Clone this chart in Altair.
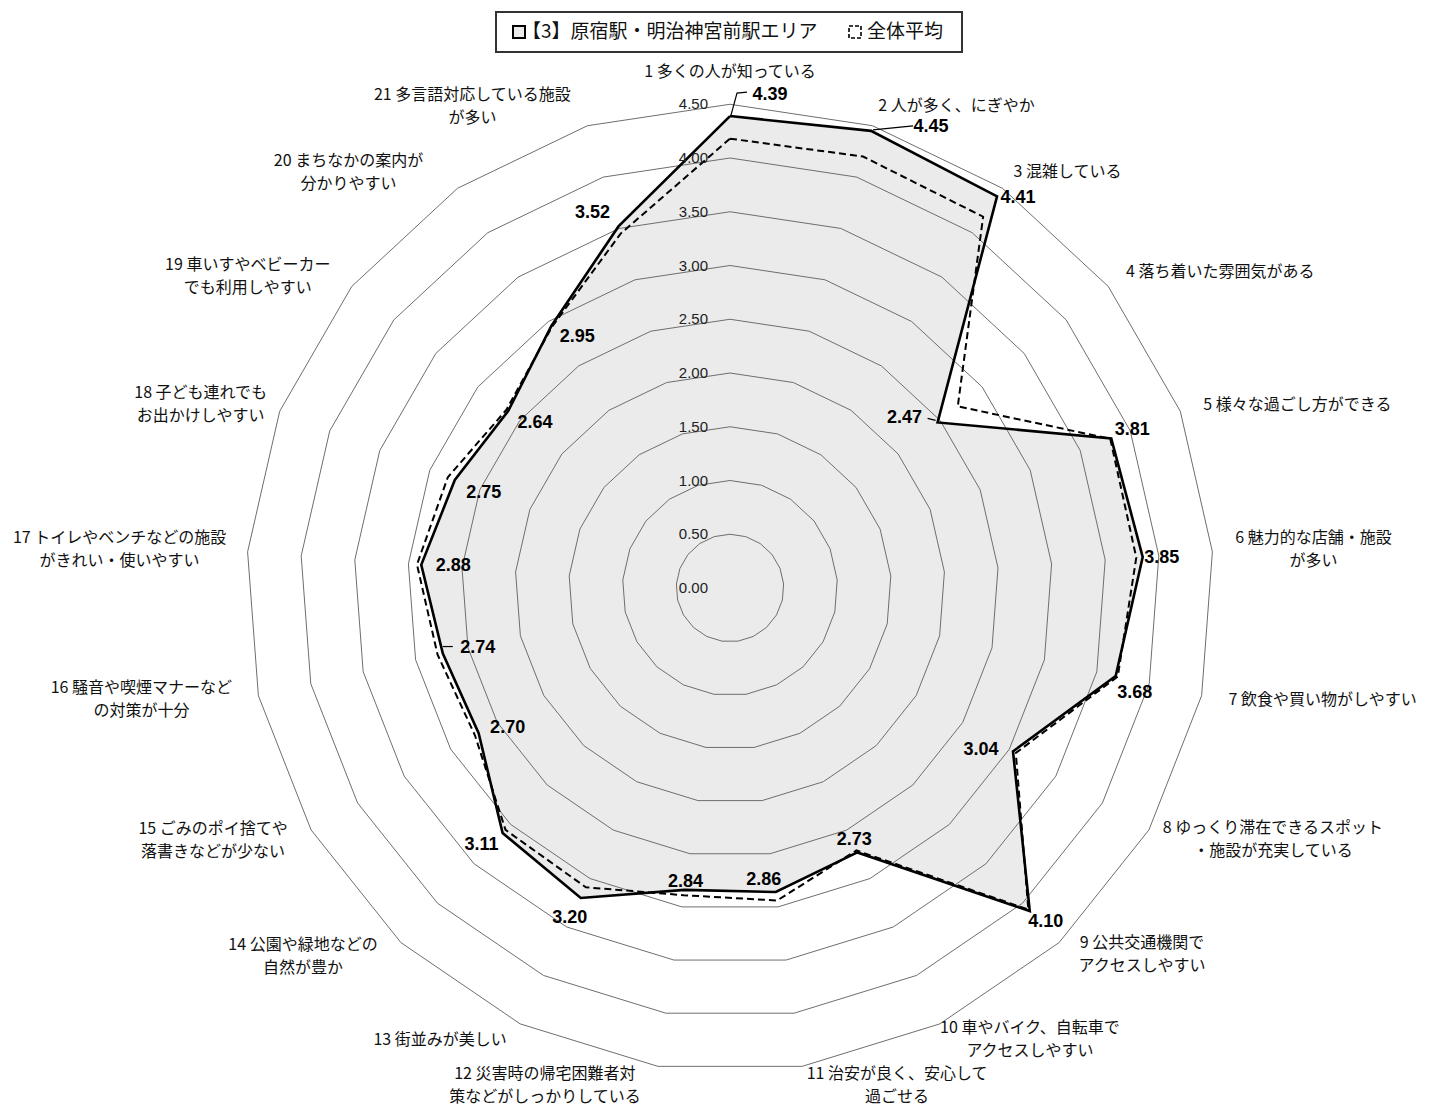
import math
import altair as alt
import pandas as pd

# ---------------- data ----------------
CATEGORIES = [
    "1 多くの人が知っている",
    "2 人が多く、にぎやか",
    "3 混雑している",
    "4 落ち着いた雰囲気がある",
    "5 様々な過ごし方ができる",
    "6 魅力的な店舗・施設\nが多い",
    "7 飲食や買い物がしやすい",
    "8 ゆっくり滞在できるスポット\n・施設が充実している",
    "9 公共交通機関で\nアクセスしやすい",
    "10 車やバイク、自転車で\nアクセスしやすい",
    "11 治安が良く、安心して\n過ごせる",
    "12 災害時の帰宅困難者対\n策などがしっかりしている",
    "13 街並みが美しい",
    "14 公園や緑地などの\n自然が豊か",
    "15 ごみのポイ捨てや\n落書きなどが少ない",
    "16 騒音や喫煙マナーなど\nの対策が十分",
    "17 トイレやベンチなどの施設\nがきれい・使いやすい",
    "18 子ども連れでも\nお出かけしやすい",
    "19 車いすやベビーカー\nでも利用しやすい",
    "20 まちなかの案内が\n分かりやすい",
    "21 多言語対応している施設\nが多い",
]
AREA_NAME = "【3】原宿駅・明治神宮前駅エリア"
AVG_NAME = "全体平均"
AREA_VALUES = [4.39, 4.45, 4.41, 2.47, 3.81, 3.85, 3.68, 3.04, 4.10, 2.73, 2.86,
               2.84, 3.20, 3.11, 2.70, 2.74, 2.88, 2.75, 2.64, 2.95, 3.52]
AVG_VALUES = [4.18, 4.20, 4.18, 2.71, 3.80, 3.79, 3.70, 3.07, 4.08, 2.71, 2.94,
              2.89, 3.09, 3.07, 2.74, 2.79, 2.92, 2.82, 2.66, 2.94, 3.45]
TICK_LEVELS = [0.0, 0.5, 1.0, 1.5, 2.0, 2.5, 3.0, 3.5, 4.0, 4.5]
MAX_LEVEL = 4.5

# ---------------- layout ----------------
W, H = 1412, 1098          # plot area in px
CX, CY = 722, 580          # centre of radar in plot px
PX = 107.5                 # px per value unit
LH = 23                    # line height of category labels

# pixel offsets of the category label block centres from the outer-ring vertex
CAT_OFFSETS = [(0, -32), (84, -20), (65, -16), (112, -14), (117, -6), (101, -2),
               (121, 4), (124, 10), (83, 12), (90, 16), (95, 19), (-113, 19),
               (-80, 16), (-98, 14), (-98, 11), (-117, 4), (-128, -2), (-79, -7),
               (-104, -10), (-109, -16), (-115, -19)]
# pixel offsets of the value labels from their data point
VAL_OFFSETS = [(40, -21), (60, -4), (21, 2), (-33, -4), (21, -8), (19, 1), (19, 17),
               (-32, -1), (16, 11), (-3, -12), (-12, -12), (1, -8), (-11, 20),
               (-21, 12), (29, -5), (35, -6), (32, 1), (29, 13), (27, 12), (26, 11),
               (-26, -13)]
# leader lines (pixel offsets from the data point) for some labels
LEADERS = {0: [(1, -1), (7, -23), (17, -24)],
           1: [(2, -1), (42, -5)],
           3: [(-10, -4), (-2, -2)],
           15: [(0, -7), (10, -7)]}

n = len(CATEGORIES)


def ang(i):
    return 2 * math.pi * i / n


def polar(v, i):
    return v * math.sin(ang(i)), v * math.cos(ang(i))


# rings
ring_rows = []
for lv in TICK_LEVELS[1:]:
    for k in range(n + 1):
        x, y = polar(lv, k % n)
        ring_rows.append({"ring": lv, "order": k, "x": x, "y": y})
ring_df = pd.DataFrame(ring_rows)


# series polygons
def series_df(values, name):
    rows = []
    for k in range(n + 1):
        x, y = polar(values[k % n], k % n)
        rows.append({"series": name, "order": k, "x": x, "y": y})
    return pd.DataFrame(rows)


area_df = series_df(AREA_VALUES, AREA_NAME)
avg_df = series_df(AVG_VALUES, AVG_NAME)

# category labels (Vega anchors a multi-line block at its first line)
cat_rows = []
for i, lab in enumerate(CATEGORIES):
    x, y = polar(MAX_LEVEL, i)
    dx, dy = CAT_OFFSETS[i]
    dy = dy - lab.count("\n") * LH / 2
    cat_rows.append({"label": lab, "x": x + dx / PX, "y": y - dy / PX})
cat_df = pd.DataFrame(cat_rows)

# value labels
val_rows = []
for i, v in enumerate(AREA_VALUES):
    x, y = polar(v, i)
    dx, dy = VAL_OFFSETS[i]
    val_rows.append({"text": f"{v:.2f}", "x": x + dx / PX, "y": y - dy / PX})
val_df = pd.DataFrame(val_rows)

# leader lines
lead_rows = []
for i, pts in LEADERS.items():
    x0, y0 = polar(AREA_VALUES[i], i)
    for k, (dx, dy) in enumerate(pts):
        lead_rows.append({"lead": i, "order": k, "x": x0 + dx / PX, "y": y0 - dy / PX})
lead_df = pd.DataFrame(lead_rows)

tick_df = pd.DataFrame({"level": TICK_LEVELS, "x": [0.0] * len(TICK_LEVELS), "y": TICK_LEVELS})

xs = alt.Scale(domain=[-CX / PX, (W - CX) / PX], nice=False, zero=False)
ys = alt.Scale(domain=[-(H - CY) / PX, CY / PX], nice=False, zero=False)
X = alt.X("x:Q", scale=xs, axis=None)
Y = alt.Y("y:Q", scale=ys, axis=None)

fill = alt.Chart(area_df).mark_line(fill="#ebebeb", strokeWidth=0, strokeOpacity=0).encode(
    x=X, y=Y, order="order:Q")

rings = alt.Chart(ring_df).mark_line(color="#6e6e6e", strokeWidth=1).encode(
    x=X, y=Y, detail="ring:N", order="order:Q")

avg_line = alt.Chart(avg_df).mark_line(color="#000000", strokeWidth=2, strokeDash=[7, 4],
                                       strokeJoin="miter").encode(x=X, y=Y, order="order:Q")
area_line = alt.Chart(area_df).mark_line(color="#000000", strokeWidth=2.6,
                                         strokeJoin="miter").encode(x=X, y=Y, order="order:Q")

leaders = alt.Chart(lead_df).mark_line(color="#000000", strokeWidth=1.2).encode(
    x=X, y=Y, detail="lead:N", order="order:Q")

ticks = alt.Chart(tick_df).mark_text(align="right", baseline="middle", dx=-22,
                                     font="Liberation Sans", fontSize=15, color="#222222").encode(
    x=X, y=Y, text=alt.Text("level:Q", format=".2f"))

cats = alt.Chart(cat_df).mark_text(
    align="center", baseline="middle", lineBreak="\n", lineHeight=LH,
    font="Noto Sans CJK JP", fontSize=16, color="#111111").encode(x=X, y=Y, text="label:N")

vals = alt.Chart(val_df).mark_text(align="center", baseline="middle", font="Liberation Sans",
                                   fontSize=18, fontWeight="bold", color="#000000").encode(
    x=X, y=Y, text="text:N")

# legend (decoration)
leg_df = pd.DataFrame({"a": [AREA_NAME], "b": [AVG_NAME]})
leg_box = alt.Chart(leg_df).mark_rect(fill="white", stroke="#333333", strokeWidth=2).encode(
    x=alt.value(488), x2=alt.value(954), y=alt.value(4), y2=alt.value(44))
leg_sq1 = alt.Chart(leg_df).mark_rect(fill="#ebebeb", stroke="#000000", strokeWidth=2).encode(
    x=alt.value(505), x2=alt.value(517), y=alt.value(18), y2=alt.value(30))
leg_sq2 = alt.Chart(leg_df).mark_rect(fill="white", stroke="#000000", strokeWidth=1.6,
                                      strokeDash=[4, 2]).encode(
    x=alt.value(841), x2=alt.value(853), y=alt.value(18), y2=alt.value(30))
leg_t1 = alt.Chart(leg_df).mark_text(align="left", baseline="middle", font="Noto Sans CJK JP",
                                     fontSize=19, color="#111111").encode(
    x=alt.value(514), y=alt.value(24), text="a:N")
leg_t2 = alt.Chart(leg_df).mark_text(align="left", baseline="middle", font="Noto Sans CJK JP",
                                     fontSize=19, color="#111111").encode(
    x=alt.value(859), y=alt.value(24), text="b:N")

chart = alt.layer(
    fill, rings, avg_line, area_line, leaders, ticks, cats, vals,
    leg_box, leg_sq1, leg_sq2, leg_t1, leg_t2
).properties(
    width=W, height=H, padding=0, background="white",
    autosize=alt.AutoSizeParams(type="none")
).configure_view(strokeWidth=0)

chart.save("out.html", embed_options={"renderer": "svg", "actions": False})
